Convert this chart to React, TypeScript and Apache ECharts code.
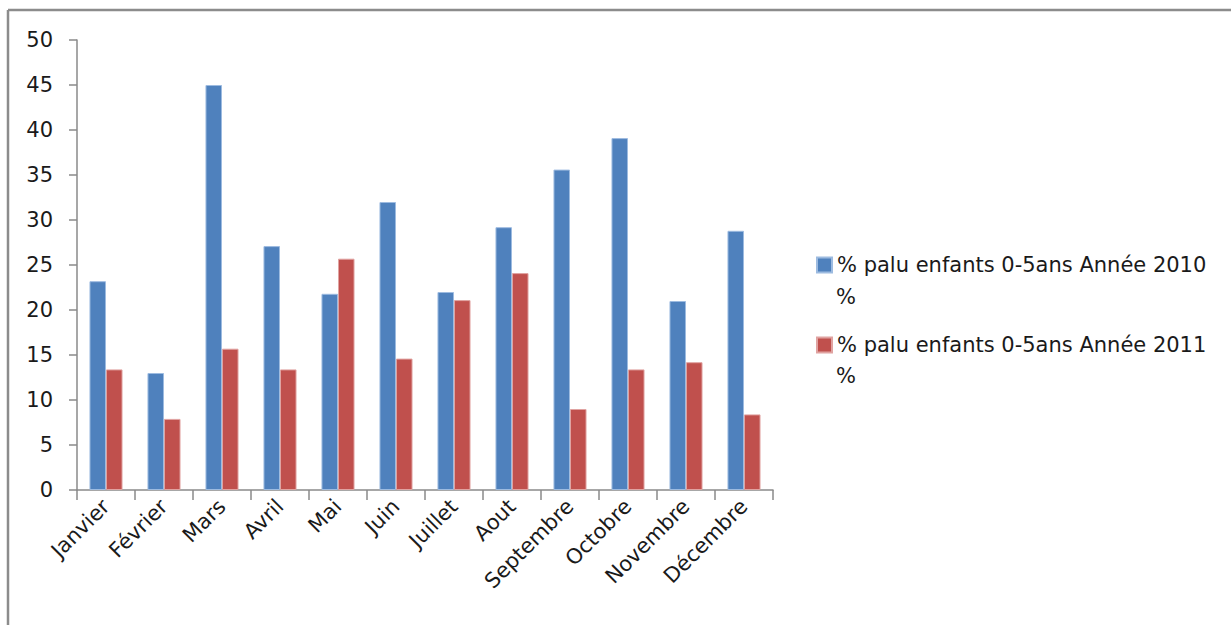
import React, { useEffect, useRef } from "react";
import * as echarts from "echarts";

// Monthly share of malaria cases among children aged 0-5, two years compared
const months = [
  "Janvier", "Février", "Mars", "Avril", "Mai", "Juin",
  "Juillet", "Aout", "Septembre", "Octobre", "Novembre", "Décembre",
];
const series2010 = [23.2, 13.0, 45.0, 27.1, 21.8, 32.0, 22.0, 29.2, 35.6, 39.1, 21.0, 28.8];
const series2011 = [13.4, 7.9, 15.7, 13.4, 25.7, 14.6, 21.1, 24.1, 9.0, 13.4, 14.2, 8.4];
const name2010 = "% palu enfants 0-5ans Année 2010 %";
const name2011 = "% palu enfants 0-5ans Année 2011 %";
const yTicks = [0, 5, 10, 15, 20, 25, 30, 35, 40, 45, 50];

const FONT = "DejaVu Sans";

export default function App() {
  const ref = useRef<HTMLDivElement>(null);

  useEffect(() => {
    if (!ref.current) return;
    const chart = echarts.init(ref.current, undefined, { renderer: "svg" });
    chart.setOption({
      animation: false,
      backgroundColor: "#ffffff",
      grid: { left: 77, right: 458, top: 40, bottom: 135, containLabel: false },
      legend: {
        orient: "vertical",
        left: 816,
        top: 254,
        padding: 0,
        itemWidth: 15,
        itemHeight: 15,
        itemGap: 58,
        icon: "rect",
        selectedMode: false,
        // the trailing "%" of each name is drawn on its own line below
        formatter: (n: string) => n.replace(/ %$/, ""),
        textStyle: { fontFamily: FONT, fontSize: 21, color: "#1a1a1a", lineHeight: 22 },
        data: [name2010, name2011],
      },
      xAxis: {
        type: "category",
        data: months,
        axisLine: { lineStyle: { color: "#8a8a8a", width: 1.5 } },
        axisTick: { show: true, length: 10, alignWithLabel: false, lineStyle: { color: "#8a8a8a", width: 1.5 } },
        axisLabel: {
          rotate: 45,
          interval: 0,
          margin: 13,
          fontFamily: FONT,
          fontSize: 21,
          color: "#1a1a1a",
        },
      },
      yAxis: {
        type: "value",
        min: yTicks[0],
        max: yTicks[yTicks.length - 1],
        interval: 5,
        splitLine: { show: false },
        axisLine: { show: true, lineStyle: { color: "#8a8a8a", width: 1.5 } },
        axisTick: { show: true, length: 8, lineStyle: { color: "#8a8a8a", width: 1.5 } },
        axisLabel: { fontFamily: FONT, fontSize: 21, color: "#1a1a1a", margin: 24 },
      },
      series: [
        {
          name: name2010,
          type: "bar",
          data: series2010,
          barGap: "0%",
          barCategoryGap: "43%",
          itemStyle: { color: "#4F81BD", borderColor: "#9dbbe0", borderWidth: 1 },
        },
        {
          name: name2011,
          type: "bar",
          data: series2011,
          itemStyle: { color: "#C0504D", borderColor: "#e0a3a1", borderWidth: 1 },
        },
      ],
      graphic: [
        {
          type: "line",
          shape: { x1: 8, y1: 10, x2: 1231, y2: 10 },
          style: { stroke: "#8c8c8c", lineWidth: 2.5 },
        },
        {
          type: "line",
          shape: { x1: 8, y1: 10, x2: 8, y2: 625 },
          style: { stroke: "#8c8c8c", lineWidth: 2.5 },
        },
        {
          type: "text",
          left: 836,
          top: 286,
          style: { text: "%", fontFamily: FONT, fontSize: 21, fill: "#1a1a1a" },
        },
        {
          type: "text",
          left: 836,
          top: 365,
          style: { text: "%", fontFamily: FONT, fontSize: 21, fill: "#1a1a1a" },
        },
      ],
    });
    return () => chart.dispose();
  }, []);

  return (
    <div
      ref={ref}
      style={{ position: "fixed", left: 0, top: 0, width: 1231, height: 625 }}
    />
  );
}
